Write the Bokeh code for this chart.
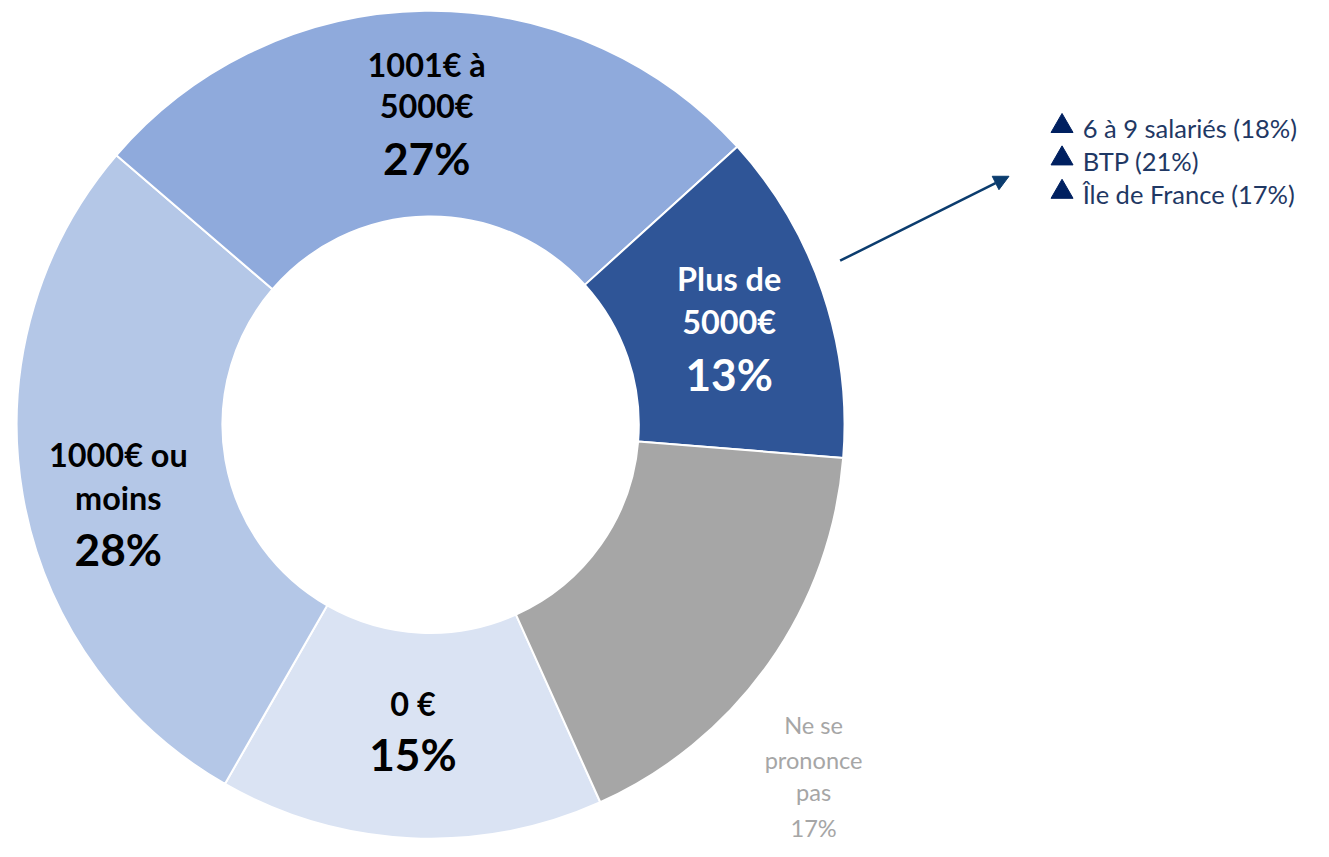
import math
from bokeh.plotting import figure
from bokeh.models import Range1d, Arrow, NormalHead, ColumnDataSource
from bokeh.core.properties import value
from bokeh.embed import file_html
from bokeh.resources import INLINE

# ---- data ----
categories = ["0 €", "1000€ ou moins", "1001€ à 5000€", "Plus de 5000€", "Ne se prononce pas"]
values = [15, 28, 27, 13, 17]
colors = ["#DAE3F3", "#B4C7E7", "#8FAADC", "#2F5597", "#A6A6A6"]
label_lines = [["0 €"], ["1000€ ou", "moins"], ["1001€ à", "5000€"], ["Plus de", "5000€"], ["Ne se", "prononce", "pas"]]
notes = ["6 à 9 salariés (18%)", "BTP (21%)", "Île de France (17%)"]

W, H = 1313, 841
FONT = "Lato"
S = 0.982  # overall layout scale so the chart fits the window


def fy(sy):
    return H - S * sy


def fx(sx):
    return S * sx


def px(n):
    return f"{n * S:.1f}px"


cx, cy = fx(438), fy(432)
r_out, r_in = 421.5 * S, 212 * S
offset_cw = 155.8  # degrees clockwise from top where first slice begins

total = sum(values)
starts, ends = [], []
acc = offset_cw
for v in values:
    a0 = acc
    a1 = acc + v / total * 360.0
    starts.append(math.radians(90 - a0))
    ends.append(math.radians(90 - a1))
    acc = a1

p = figure(width=W, height=H, x_range=Range1d(0, W), y_range=Range1d(0, H),
           output_backend="svg", toolbar_location=None, min_border=0)
p.axis.visible = False
p.grid.visible = False
p.outline_line_color = None
p.background_fill_color = "white"

src = ColumnDataSource(dict(x=[cx] * len(values), y=[cy] * len(values),
                            start=starts, end=ends, color=colors))
p.annular_wedge(x="x", y="y", inner_radius=r_in, outer_radius=r_out,
                start_angle="start", end_angle="end", direction="clock",
                fill_color="color", line_color="white", line_width=2, source=src)

# slice labels (layout positions)
label_pos = [(420, [716], 767), (120, [462, 506], 558), (434, [65, 107], 160),
             (742, [283, 327], 380), (828, [738, 773, 806], 843)]
txt_colors = ["black", "black", "black", "white", "#A6A6A6"]
for i, (sx, line_ys, pct_y) in enumerate(label_pos):
    lines = label_lines[i]
    is_nsp = i == 4
    for ln, sy in zip(lines, line_ys):
        p.text(x=[fx(sx)], y=[fy(sy)], text=[ln], text_font=value(FONT),
               text_font_size=px(24) if is_nsp else px(33),
               text_font_style="normal" if is_nsp else "bold",
               text_color=txt_colors[i], text_align="center", text_baseline="middle")
    p.text(x=[fx(sx)], y=[fy(pct_y)], text=[f"{values[i]}%"], text_font=value(FONT),
           text_font_size=px(24) if is_nsp else px(45),
           text_font_style="normal" if is_nsp else "bold",
           text_color=txt_colors[i], text_align="center", text_baseline="middle")

# arrow
p.add_layout(Arrow(end=NormalHead(size=15, fill_color="#0B3C6E", line_color="#0B3C6E"),
                   x_start=fx(855), y_start=fy(265), x_end=fx(1027), y_end=fy(179),
                   line_color="#0B3C6E", line_width=2.5))

# notes
note_ys = [130, 163, 197]
p.scatter(x=[fx(1081)] * 3, y=[fy(s) + 2 for s in note_ys], marker="triangle", size=22,
          fill_color="#002060", line_color="#002060")
p.text(x=[fx(1102)] * 3, y=[fy(s) for s in note_ys], text=notes, text_font=value(FONT),
       text_font_size=px(26), text_color="#1F3864", text_align="left", text_baseline="middle")

open("out.html", "w").write(file_html(p, INLINE))
